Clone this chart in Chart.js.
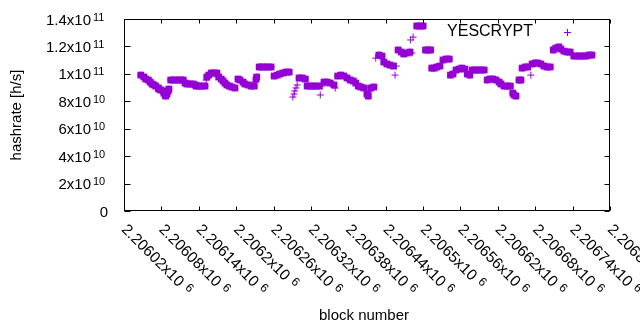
<!DOCTYPE html>
<html>
<head>
<meta charset="utf-8">
<script src="https://cdn.jsdelivr.net/npm/chart.js@4/dist/chart.umd.min.js"></script>
<style>
  html, body { margin: 0; padding: 0; background: #fff; }
</style>
</head>
<body>
<canvas id="grafico" width="640" height="330"></canvas>
<script>
// block numbers and hashrate [h/s]
const blocos = [
  2206047, 2206052, 2206055, 2206059, 2206062,
  2206065, 2206068, 2206071, 2206075,
  2206076, 2206079, 2206083,
  2206084, 2206086, 2206087, 2206089,
  2206091, 2206092,
  2206095, 2206100, 2206105, 2206110, 2206115,
  2206118, 2206121, 2206126, 2206131, 2206134,
  2206136, 2206140, 2206145, 2206150,
  2206152, 2206153, 2206156,
  2206160, 2206164, 2206169,
  2206172, 2206176, 2206179,
  2206182, 2206185, 2206189, 2206193, 2206198,
  2206203, 2206206, 2206211,
  2206214, 2206219, 2206224, 2206229,
  2206230, 2206232, 2206233,
  2206237, 2206241, 2206246, 2206251, 2206256,
  2206261, 2206266, 2206270,
  2206275, 2206280, 2206285,
  2206291, 2206293, 2206294, 2206296, 2206298,
  2206301, 2206306, 2206311,
  2206314, 2206319, 2206323, 2206328, 2206333, 2206335, 2206338,
  2206341, 2206346, 2206351, 2206357, 2206359,
  2206363, 2206368, 2206373,
  2206378, 2206383, 2206388, 2206392,
  2206396, 2206400, 2206405,
  2206410, 2206412, 2206413, 2206416, 2206421,
  2206424, 2206429, 2206434,
  2206437, 2206442, 2206447, 2206452, 2206455, 2206457,
  2206460, 2206465, 2206469, 2206474, 2206479, 2206480, 2206482, 2206484,
  2206490, 2206495, 2206500,
  2206504, 2206508, 2206512,
  2206514, 2206518, 2206522, 2206527,
  2206532, 2206537, 2206542,
  2206544, 2206548,
  2206553, 2206558, 2206562, 2206567,
  2206571, 2206575,
  2206579, 2206583, 2206588, 2206593, 2206598,
  2206603, 2206607, 2206612, 2206617, 2206622,
  2206625, 2206630, 2206635, 2206640,
  2206644, 2206646, 2206649,
  2206654, 2206657,
  2206659, 2206664, 2206668,
  2206673,
  2206675, 2206680, 2206684, 2206689,
  2206694, 2206699, 2206704,
  2206709, 2206713, 2206718, 2206721,
  2206726, 2206731, 2206736,
  2206742, 2206747, 2206752, 2206757, 2206762, 2206766, 2206771
];

const hashrates = [
  99.1e9, 97.7e9, 96.2e9, 95.5e9, 94.0e9,
  92.6e9, 91.9e9, 91.1e9, 89.7e9,
  88.9e9, 88.2e9, 87.5e9,
  86.0e9, 84.6e9, 83.8e9, 85.3e9,
  87.5e9, 88.9e9,
  95.5e9, 95.5e9, 95.5e9, 95.5e9, 95.5e9,
  93.3e9, 92.6e9, 92.6e9, 92.6e9, 91.9e9,
  91.1e9, 91.1e9, 91.1e9, 91.1e9,
  95.5e9, 97.7e9, 99.1e9,
  100.6e9, 100.6e9, 100.6e9,
  97.7e9, 96.2e9, 94.8e9,
  93.3e9, 91.9e9, 91.1e9, 90.4e9, 89.7e9,
  96.2e9, 95.5e9, 94.0e9,
  92.6e9, 91.9e9, 91.1e9, 91.1e9,
  94.0e9, 96.2e9, 97.7e9,
  105.0e9, 105.0e9, 105.0e9, 105.0e9, 105.0e9,
  98.4e9, 99.1e9, 99.9e9,
  100.6e9, 101.3e9, 101.3e9,
  83.1e9, 85.3e9, 87.5e9, 89.7e9, 91.9e9,
  97.0e9, 97.0e9, 96.2e9,
  91.1e9, 91.1e9, 91.1e9, 91.1e9, 91.1e9, 84.6e9, 91.1e9,
  94.0e9, 94.0e9, 93.3e9, 91.9e9, 89.7e9,
  98.4e9, 99.1e9, 98.4e9,
  97.0e9, 95.5e9, 94.8e9, 93.3e9,
  91.1e9, 90.4e9, 89.7e9,
  85.3e9, 83.8e9, 86.8e9, 89.7e9, 90.4e9,
  111.5e9, 113.7e9, 113.0e9,
  108.6e9, 107.2e9, 106.4e9, 105.7e9, 99.1e9, 105.7e9,
  117.4e9, 115.9e9, 114.5e9, 115.2e9, 115.9e9, 124.7e9, 115.2e9, 126.8e9,
  134.9e9, 134.9e9, 134.9e9,
  117.4e9, 117.4e9, 117.4e9,
  104.2e9, 104.2e9, 105.0e9, 105.7e9,
  110.1e9, 110.8e9, 110.8e9,
  99.1e9, 99.9e9,
  102.8e9, 103.5e9, 104.2e9, 103.5e9,
  99.9e9, 99.1e9,
  102.8e9, 102.8e9, 102.8e9, 102.8e9, 102.8e9,
  95.5e9, 96.2e9, 96.2e9, 95.5e9, 94.0e9,
  92.6e9, 91.1e9, 91.1e9, 91.1e9,
  86.0e9, 84.6e9, 83.8e9,
  95.5e9, 95.5e9,
  104.2e9, 105.0e9, 105.0e9,
  99.1e9,
  107.2e9, 107.9e9, 107.9e9, 107.2e9,
  105.7e9, 105.0e9, 105.0e9,
  117.4e9, 118.8e9, 119.6e9, 118.1e9,
  116.6e9, 115.9e9, 115.9e9,
  113.0e9, 113.0e9, 113.0e9, 113.0e9, 113.0e9, 113.7e9, 113.7e9
];

const serieNome = "YESCRYPT";

const yTicks = [0, 2e10, 4e10, 6e10, 8e10, 1e11, 1.2e11, 1.4e11];
const yTickLabels = [
  ["0", ""], ["2x10", "10"], ["4x10", "10"], ["6x10", "10"],
  ["8x10", "10"], ["1x10", "11"], ["1.2x10", "11"], ["1.4x10", "11"]
];

const xTicks = [
  2206020, 2206080, 2206140, 2206200, 2206260, 2206320, 2206380,
  2206440, 2206500, 2206560, 2206620, 2206680, 2206740, 2206800
];
const xTickLabels = [
  "2.20602x10", "2.20608x10", "2.20614x10", "2.2062x10", "2.20626x10",
  "2.20632x10", "2.20638x10", "2.20644x10", "2.2065x10", "2.20656x10",
  "2.20662x10", "2.20668x10", "2.20674x10", "2.2068x10"
];
const xTickExp = "6";

const COR = "#9400d3";
const FONTE = '"Liberation Sans", Arial, sans-serif';

// points that pile up with a neighbour: gnuplot shows them as a filled block
function amontoado(i) {
  const perto = j => j >= 0 && j < blocos.length &&
    Math.abs(blocos[j] - blocos[i]) <= 6 &&
    Math.abs(hashrates[j] - hashrates[i]) <= 1.6e9;
  return perto(i - 1) || perto(i + 1);
}

const pontos = blocos.map((b, i) => ({ x: b, y: hashrates[i] }));

const eixosGnuplot = {
  id: "eixosGnuplot",
  afterDraw(chart) {
    const ctx = chart.ctx;
    const a = chart.chartArea;
    const sx = chart.scales.x, sy = chart.scales.y;
    const L = Math.round(a.left) + 0.5, R = Math.round(a.right) - 0.5;
    const T = Math.round(a.top) + 0.5, B = Math.round(a.bottom) - 0.5;

    ctx.save();
    ctx.strokeStyle = "#000";
    ctx.lineWidth = 1;
    ctx.strokeRect(L, T, R - L, B - T);

    // tick marks, inward and mirrored
    ctx.beginPath();
    yTicks.forEach(v => {
      const y = Math.round(sy.getPixelForValue(v)) + 0.5;
      ctx.moveTo(L, y); ctx.lineTo(L + 6, y);
      ctx.moveTo(R, y); ctx.lineTo(R - 5, y);
    });
    xTicks.forEach(v => {
      const x = Math.round(sx.getPixelForValue(v)) + 0.5;
      ctx.moveTo(x, B); ctx.lineTo(x, B - 4);
      ctx.moveTo(x, T); ctx.lineTo(x, T + 4);
    });
    ctx.stroke();

    ctx.fillStyle = "#000";
    ctx.textBaseline = "alphabetic";

    // y tick labels
    yTicks.forEach((v, i) => {
      const y = sy.getPixelForValue(v);
      const [m, e] = yTickLabels[i];
      ctx.font = "15px " + FONTE;
      ctx.textAlign = "right";
      if (!e) {
        ctx.fillText(m, 108, y + 5.5);
        return;
      }
      ctx.fillText(m, 91, y + 5.5);
      ctx.font = "11px " + FONTE;
      ctx.textAlign = "left";
      ctx.fillText(e, 93, y + 1.5);
    });

    // x tick labels, rotated down-right
    xTicks.forEach((v, i) => {
      const x = sx.getPixelForValue(v);
      ctx.save();
      ctx.translate(x + 1, 226);
      ctx.rotate(Math.PI / 4);
      ctx.textAlign = "left";
      ctx.font = "15.5px " + FONTE;
      ctx.fillText(xTickLabels[i], 0, 6);
      const w = ctx.measureText(xTickLabels[i]).width;
      ctx.font = "12px " + FONTE;
      ctx.fillText(xTickExp, w + 5, 2);
      ctx.restore();
    });

    // axis titles
    ctx.font = "15px " + FONTE;
    ctx.textAlign = "center";
    ctx.textBaseline = "middle";
    ctx.fillText("block number", 364, 316);
    ctx.save();
    ctx.translate(17, 115);
    ctx.rotate(-Math.PI / 2);
    ctx.fillText("hashrate [h/s]", 0, 0);
    ctx.restore();

    // key
    ctx.font = "16px " + FONTE;
    ctx.textAlign = "right";
    ctx.fillText(serieNome, 533, 32);
    ctx.strokeStyle = COR;
    ctx.beginPath();
    ctx.moveTo(564, 32.5); ctx.lineTo(571, 32.5);
    ctx.moveTo(567.5, 29); ctx.lineTo(567.5, 36);
    ctx.stroke();
    ctx.restore();
  }
};

new Chart(document.getElementById("grafico"), {
  type: "scatter",
  data: {
    datasets: [{
      label: serieNome,
      data: pontos,
      pointStyle: "cross",
      pointRadius: 3.5,
      pointBorderWidth: 1,
      borderColor: COR,
      backgroundColor: COR,
      showLine: false
    }, {
      label: serieNome + " (dense)",
      data: pontos,
      pointStyle: "rect",
      pointRadius: ctx => amontoado(ctx.dataIndex) ? 4.8 : 0,
      pointBorderWidth: 0,
      borderColor: COR,
      backgroundColor: COR,
      showLine: false
    }]
  },
  options: {
    responsive: false,
    animation: false,
    layout: { padding: { left: 124, right: 30, top: 19, bottom: 119 } },
    plugins: { legend: { display: false }, tooltip: { enabled: false } },
    scales: {
      x: { type: "linear", min: 2206020, max: 2206800, display: false },
      y: { min: 0, max: 1.4e11, display: false }
    }
  },
  plugins: [eixosGnuplot]
});
</script>
</body>
</html>
